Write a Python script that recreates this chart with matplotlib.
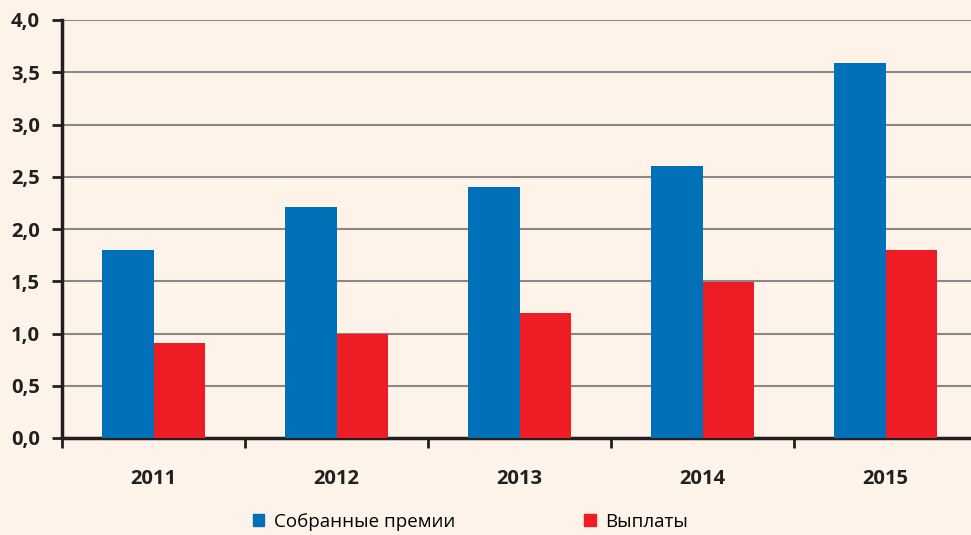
import matplotlib
matplotlib.use("Agg")
import matplotlib.pyplot as plt
import numpy as np
from matplotlib.patches import Patch

years = ["2011", "2012", "2013", "2014", "2015"]
premiums = [1.80, 2.21, 2.40, 2.60, 3.59]
payouts = [0.91, 1.00, 1.20, 1.49, 1.80]
series_names = ["Собранные премии", "Выплаты"]
yticks = [0.0, 0.5, 1.0, 1.5, 2.0, 2.5, 3.0, 3.5, 4.0]

bg = "#FDF3E8"
blue = "#0070B8"
red = "#EE1C25"

plt.rcParams['font.family'] = ['Open Sans', 'DejaVu Sans']

fig = plt.figure(figsize=(9.71, 5.35), dpi=100, facecolor=bg)
ax = fig.add_axes([62/971, 97/535, 915/971, 418/535], facecolor=bg)

x = np.arange(len(years))
w = 0.284
ax.bar(x - w/2, premiums, width=w, color=blue, zorder=3)
ax.bar(x + w/2, payouts, width=w, color=red, zorder=3)

ax.set_xlim(-0.5, len(years) - 0.5)
ax.set_ylim(0, 4.0)
ax.set_yticks(yticks)
ax.set_yticklabels([f"{v:.1f}".replace(".", ",") for v in yticks],
                   fontsize=14.5, fontweight='bold', color="#231F20")
ax.yaxis.grid(True, color="#8C8782", linewidth=1.5, zorder=0)
ax.set_axisbelow(True)

ax.set_xticks(x)
ax.set_xticklabels(years, fontsize=14.5, fontweight='bold', color="#231F20")
ax.set_xticks(np.arange(-0.5, len(years)), minor=True)
ax.tick_params(axis='x', which='major', length=0, pad=22)
ax.tick_params(axis='x', which='minor', length=7, width=2, color="#231F20", direction='out')
ax.tick_params(axis='y', length=7, width=2, color="#231F20", direction='out', pad=9)

for s in ['top', 'right']:
    ax.spines[s].set_visible(False)
for s in ['left', 'bottom']:
    ax.spines[s].set_linewidth(2.5)
    ax.spines[s].set_color("#231F20")

handles = [Patch(color=blue), Patch(color=red)]
fig.legend(handles, series_names, loc='center left', bbox_to_anchor=(253/971, 1 - 522/535),
           ncol=2, frameon=False, fontsize=13.5, handlelength=0.6, handleheight=0.6,
           handletextpad=0.5, columnspacing=6.9, borderpad=0, borderaxespad=0)

fig.savefig("out.png", dpi=100, facecolor=bg)
